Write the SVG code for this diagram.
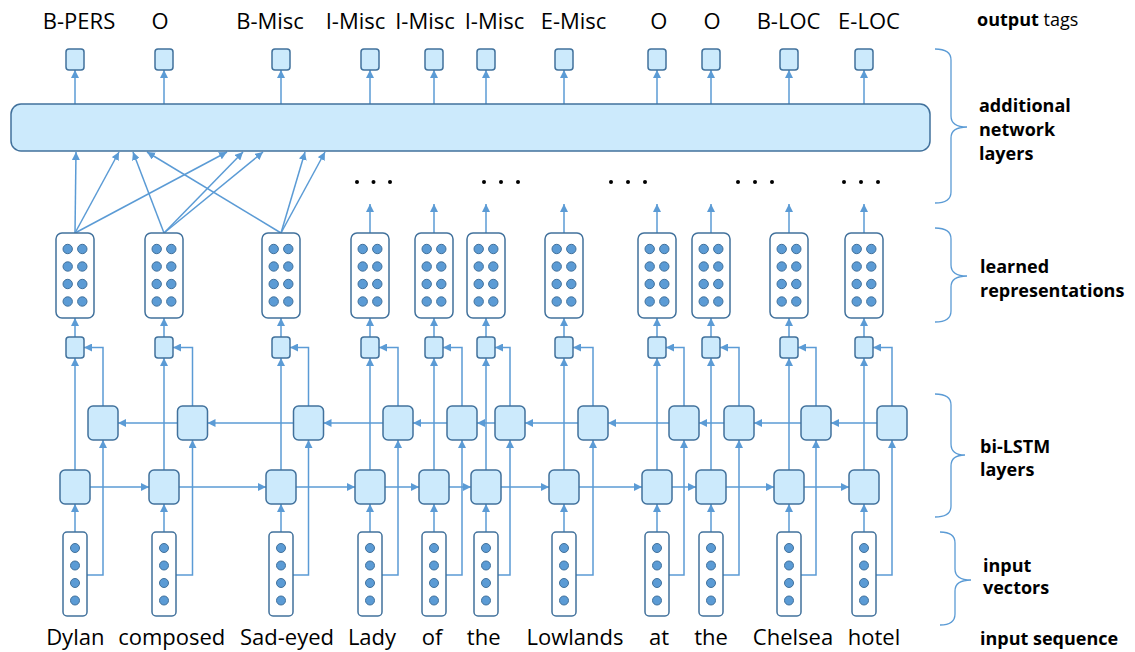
<svg xmlns="http://www.w3.org/2000/svg" width="1135" height="652" viewBox="0 0 1135 652">
<style>
.box{fill:#CCEAFC;stroke:#41719C;stroke-width:1.5}
.rep{fill:#fff;stroke:#41719C;stroke-width:1.5}
.dot{fill:#5B9BD5;stroke:#41719C;stroke-width:1}
.ln{stroke:#5B9BD5;stroke-width:1.5;fill:none}
.ar{marker-end:url(#ah)}
.br{stroke:#5B9BD5;stroke-width:1.3;fill:none}
.t{font-family:"Open Sans","Liberation Sans",sans-serif;font-size:22px;fill:#000;text-anchor:middle}
.lb{font-family:"Open Sans","Liberation Sans",sans-serif;font-size:18px;font-weight:bold;fill:#000}
.ell{fill:#000}
</style>
<defs>
<marker id="ah" markerWidth="8" markerHeight="8" refX="8" refY="4" orient="auto" markerUnits="userSpaceOnUse"><path d="M0,0 L8,4 L0,8 z" fill="#5B9BD5"/></marker>
<g id="rdots"><circle class="dot" cx="-7.3" cy="16" r="4.7"/><circle class="dot" cx="7.3" cy="16" r="4.7"/><circle class="dot" cx="-7.3" cy="33.5" r="4.7"/><circle class="dot" cx="7.3" cy="33.5" r="4.7"/><circle class="dot" cx="-7.3" cy="51" r="4.7"/><circle class="dot" cx="7.3" cy="51" r="4.7"/><circle class="dot" cx="-7.3" cy="68.5" r="4.7"/><circle class="dot" cx="7.3" cy="68.5" r="4.7"/></g>
<g id="idots"><circle class="dot" cx="0" cy="16" r="4.5"/><circle class="dot" cx="0" cy="33.5" r="4.5"/><circle class="dot" cx="0" cy="51" r="4.5"/><circle class="dot" cx="0" cy="68.5" r="4.5"/></g>
</defs>
<rect width="1135" height="652" fill="#fff"/>

<g id="connectors">
<!-- output arrows -->
<path class="ln ar" d="M75,104V70"/><path class="ln ar" d="M164,104V70"/><path class="ln ar" d="M281,104V70"/><path class="ln ar" d="M370,104V70"/><path class="ln ar" d="M434,104V70"/><path class="ln ar" d="M486,104V70"/><path class="ln ar" d="M564,104V70"/><path class="ln ar" d="M657,104V70"/><path class="ln ar" d="M711,104V70"/><path class="ln ar" d="M789,104V70"/><path class="ln ar" d="M864,104V70"/>
<!-- crossing lines into additional layers -->
<path class="ln ar" d="M75,233L76,152"/><path class="ln ar" d="M75,233L119,152"/><path class="ln ar" d="M75,233L227,152"/>
<path class="ln ar" d="M164,233L133,152"/><path class="ln ar" d="M164,233L243,152"/><path class="ln ar" d="M164,233L263,152"/>
<path class="ln ar" d="M281,233L147,152"/><path class="ln ar" d="M281,233L305,152"/><path class="ln ar" d="M281,233L325,152"/>
<!-- rep to dots -->
<path class="ln ar" d="M370,233V204"/><path class="ln ar" d="M434,233V204"/><path class="ln ar" d="M486,233V204"/><path class="ln ar" d="M564,233V204"/><path class="ln ar" d="M657,233V204"/><path class="ln ar" d="M711,233V204"/><path class="ln ar" d="M789,233V204"/><path class="ln ar" d="M864,233V204"/>
<!-- small to rep -->
<path class="ln ar" d="M75,337V318"/><path class="ln ar" d="M164,337V318"/><path class="ln ar" d="M281,337V318"/><path class="ln ar" d="M370,337V318"/><path class="ln ar" d="M434,337V318"/><path class="ln ar" d="M486,337V318"/><path class="ln ar" d="M564,337V318"/><path class="ln ar" d="M657,337V318"/><path class="ln ar" d="M711,337V318"/><path class="ln ar" d="M789,337V318"/><path class="ln ar" d="M864,337V318"/>
<!-- forward to small -->
<path class="ln ar" d="M75,470V358"/><path class="ln ar" d="M164,470V358"/><path class="ln ar" d="M281,470V358"/><path class="ln ar" d="M370,470V358"/><path class="ln ar" d="M434,470V358"/><path class="ln ar" d="M486,470V358"/><path class="ln ar" d="M564,470V358"/><path class="ln ar" d="M657,470V358"/><path class="ln ar" d="M711,470V358"/><path class="ln ar" d="M789,470V358"/><path class="ln ar" d="M864,470V358"/>
<!-- backward to small -->
<path class="ln ar" d="M103,406V347.5H84"/><path class="ln ar" d="M192.5,406V347.5H173"/><path class="ln ar" d="M308.5,406V347.5H290"/><path class="ln ar" d="M398,406V347.5H379"/><path class="ln ar" d="M462,406V347.5H443"/><path class="ln ar" d="M510,406V347.5H495"/><path class="ln ar" d="M593,406V347.5H573"/><path class="ln ar" d="M684,406V347.5H666"/><path class="ln ar" d="M739,406V347.5H720"/><path class="ln ar" d="M816,406V347.5H798"/><path class="ln ar" d="M892,406V347.5H873"/>
<!-- input to forward -->
<path class="ln ar" d="M75,532V504"/><path class="ln ar" d="M164,532V504"/><path class="ln ar" d="M281,532V504"/><path class="ln ar" d="M370,532V504"/><path class="ln ar" d="M434,532V504"/><path class="ln ar" d="M486,532V504"/><path class="ln ar" d="M564,532V504"/><path class="ln ar" d="M657,532V504"/><path class="ln ar" d="M711,532V504"/><path class="ln ar" d="M789,532V504"/><path class="ln ar" d="M864,532V504"/>
<!-- input to backward -->
<path class="ln ar" d="M87,575H103V440"/><path class="ln ar" d="M176,575H192.5V440"/><path class="ln ar" d="M293,575H308.5V440"/><path class="ln ar" d="M382,575H398V440"/><path class="ln ar" d="M446,575H462V440"/><path class="ln ar" d="M498,575H510V440"/><path class="ln ar" d="M576,575H593V440"/><path class="ln ar" d="M669,575H684V440"/><path class="ln ar" d="M723,575H739V440"/><path class="ln ar" d="M801,575H816V440"/><path class="ln ar" d="M876,575H892V440"/>
<!-- forward chain -->
<path class="ln ar" d="M90,487H149"/><path class="ln ar" d="M179,487H266"/><path class="ln ar" d="M296,487H355"/><path class="ln ar" d="M385,487H419"/><path class="ln ar" d="M449,487H471"/><path class="ln ar" d="M501,487H549"/><path class="ln ar" d="M579,487H642"/><path class="ln ar" d="M672,487H696"/><path class="ln ar" d="M726,487H774"/><path class="ln ar" d="M804,487H849"/>
<!-- backward chain -->
<path class="ln ar" d="M177.5,423H118"/><path class="ln ar" d="M293.5,423H207.5"/><path class="ln ar" d="M383,423H323.5"/><path class="ln ar" d="M447,423H413"/><path class="ln ar" d="M495,423H477"/><path class="ln ar" d="M578,423H525"/><path class="ln ar" d="M669,423H608"/><path class="ln ar" d="M724,423H699"/><path class="ln ar" d="M801,423H754"/><path class="ln ar" d="M877,423H831"/>
</g>

<g id="output-tags">
<text class="t" x="79" y="29">B-PERS</text><text class="t" x="160" y="29">O</text><text class="t" x="270" y="29">B-Misc</text><text class="t" x="355.5" y="29">I-Misc</text><text class="t" x="425" y="29">I-Misc</text><text class="t" x="494.5" y="29">I-Misc</text><text class="t" x="573.5" y="29">E-Misc</text><text class="t" x="658.7" y="29">O</text><text class="t" x="712" y="29">O</text><text class="t" x="788.5" y="29">B-LOC</text><text class="t" x="869" y="29">E-LOC</text>
</g>

<g id="output-boxes">
<rect class="box" x="66" y="49" width="18" height="21" rx="3"/><rect class="box" x="155" y="49" width="18" height="21" rx="3"/><rect class="box" x="272" y="49" width="18" height="21" rx="3"/><rect class="box" x="361" y="49" width="18" height="21" rx="3"/><rect class="box" x="425" y="49" width="18" height="21" rx="3"/><rect class="box" x="477" y="49" width="18" height="21" rx="3"/><rect class="box" x="555" y="49" width="18" height="21" rx="3"/><rect class="box" x="648" y="49" width="18" height="21" rx="3"/><rect class="box" x="702" y="49" width="18" height="21" rx="3"/><rect class="box" x="780" y="49" width="18" height="21" rx="3"/><rect class="box" x="855" y="49" width="18" height="21" rx="3"/>
</g>

<g id="additional-layers"><rect class="box" x="11" y="104" width="919" height="47" rx="10"/></g>

<g id="ellipses">
<circle class="ell" cx="357" cy="182" r="2"/><circle class="ell" cx="373.5" cy="182" r="2"/><circle class="ell" cx="390" cy="182" r="2"/>
<circle class="ell" cx="484" cy="182" r="2"/><circle class="ell" cx="501" cy="182" r="2"/><circle class="ell" cx="518" cy="182" r="2"/>
<circle class="ell" cx="611" cy="182" r="2"/><circle class="ell" cx="628" cy="182" r="2"/><circle class="ell" cx="645" cy="182" r="2"/>
<circle class="ell" cx="738" cy="182" r="2"/><circle class="ell" cx="755" cy="182" r="2"/><circle class="ell" cx="772" cy="182" r="2"/>
<circle class="ell" cx="844" cy="182" r="2"/><circle class="ell" cx="861" cy="182" r="2"/><circle class="ell" cx="878" cy="182" r="2"/>
</g>

<g id="learned-representations">
<g id="rep1"><rect class="rep" x="56" y="233" width="38" height="85" rx="6"/><use href="#rdots" x="75" y="233"/></g>
<g id="rep2"><rect class="rep" x="145" y="233" width="38" height="85" rx="6"/><use href="#rdots" x="164" y="233"/></g>
<g id="rep3"><rect class="rep" x="262" y="233" width="38" height="85" rx="6"/><use href="#rdots" x="281" y="233"/></g>
<g id="rep4"><rect class="rep" x="351" y="233" width="38" height="85" rx="6"/><use href="#rdots" x="370" y="233"/></g>
<g id="rep5"><rect class="rep" x="415" y="233" width="38" height="85" rx="6"/><use href="#rdots" x="434" y="233"/></g>
<g id="rep6"><rect class="rep" x="467" y="233" width="38" height="85" rx="6"/><use href="#rdots" x="486" y="233"/></g>
<g id="rep7"><rect class="rep" x="545" y="233" width="38" height="85" rx="6"/><use href="#rdots" x="564" y="233"/></g>
<g id="rep8"><rect class="rep" x="638" y="233" width="38" height="85" rx="6"/><use href="#rdots" x="657" y="233"/></g>
<g id="rep9"><rect class="rep" x="692" y="233" width="38" height="85" rx="6"/><use href="#rdots" x="711" y="233"/></g>
<g id="rep10"><rect class="rep" x="770" y="233" width="38" height="85" rx="6"/><use href="#rdots" x="789" y="233"/></g>
<g id="rep11"><rect class="rep" x="845" y="233" width="38" height="85" rx="6"/><use href="#rdots" x="864" y="233"/></g>
</g>

<g id="concat-boxes">
<rect class="box" x="66" y="337" width="18" height="21" rx="3"/><rect class="box" x="155" y="337" width="18" height="21" rx="3"/><rect class="box" x="272" y="337" width="18" height="21" rx="3"/><rect class="box" x="361" y="337" width="18" height="21" rx="3"/><rect class="box" x="425" y="337" width="18" height="21" rx="3"/><rect class="box" x="477" y="337" width="18" height="21" rx="3"/><rect class="box" x="555" y="337" width="18" height="21" rx="3"/><rect class="box" x="648" y="337" width="18" height="21" rx="3"/><rect class="box" x="702" y="337" width="18" height="21" rx="3"/><rect class="box" x="780" y="337" width="18" height="21" rx="3"/><rect class="box" x="855" y="337" width="18" height="21" rx="3"/>
</g>

<g id="backward-lstm">
<rect class="box" x="88" y="406" width="30" height="34" rx="5"/><rect class="box" x="177.5" y="406" width="30" height="34" rx="5"/><rect class="box" x="293.5" y="406" width="30" height="34" rx="5"/><rect class="box" x="383" y="406" width="30" height="34" rx="5"/><rect class="box" x="447" y="406" width="30" height="34" rx="5"/><rect class="box" x="495" y="406" width="30" height="34" rx="5"/><rect class="box" x="578" y="406" width="30" height="34" rx="5"/><rect class="box" x="669" y="406" width="30" height="34" rx="5"/><rect class="box" x="724" y="406" width="30" height="34" rx="5"/><rect class="box" x="801" y="406" width="30" height="34" rx="5"/><rect class="box" x="877" y="406" width="30" height="34" rx="5"/>
</g>

<g id="forward-lstm">
<rect class="box" x="60" y="470" width="30" height="34" rx="5"/><rect class="box" x="149" y="470" width="30" height="34" rx="5"/><rect class="box" x="266" y="470" width="30" height="34" rx="5"/><rect class="box" x="355" y="470" width="30" height="34" rx="5"/><rect class="box" x="419" y="470" width="30" height="34" rx="5"/><rect class="box" x="471" y="470" width="30" height="34" rx="5"/><rect class="box" x="549" y="470" width="30" height="34" rx="5"/><rect class="box" x="642" y="470" width="30" height="34" rx="5"/><rect class="box" x="696" y="470" width="30" height="34" rx="5"/><rect class="box" x="774" y="470" width="30" height="34" rx="5"/><rect class="box" x="849" y="470" width="30" height="34" rx="5"/>
</g>

<g id="input-vectors">
<g id="in1"><rect class="rep" x="63" y="532" width="24" height="84" rx="4"/><use href="#idots" x="75" y="532"/></g>
<g id="in2"><rect class="rep" x="152" y="532" width="24" height="84" rx="4"/><use href="#idots" x="164" y="532"/></g>
<g id="in3"><rect class="rep" x="269" y="532" width="24" height="84" rx="4"/><use href="#idots" x="281" y="532"/></g>
<g id="in4"><rect class="rep" x="358" y="532" width="24" height="84" rx="4"/><use href="#idots" x="370" y="532"/></g>
<g id="in5"><rect class="rep" x="422" y="532" width="24" height="84" rx="4"/><use href="#idots" x="434" y="532"/></g>
<g id="in6"><rect class="rep" x="474" y="532" width="24" height="84" rx="4"/><use href="#idots" x="486" y="532"/></g>
<g id="in7"><rect class="rep" x="552" y="532" width="24" height="84" rx="4"/><use href="#idots" x="564" y="532"/></g>
<g id="in8"><rect class="rep" x="645" y="532" width="24" height="84" rx="4"/><use href="#idots" x="657" y="532"/></g>
<g id="in9"><rect class="rep" x="699" y="532" width="24" height="84" rx="4"/><use href="#idots" x="711" y="532"/></g>
<g id="in10"><rect class="rep" x="777" y="532" width="24" height="84" rx="4"/><use href="#idots" x="789" y="532"/></g>
<g id="in11"><rect class="rep" x="852" y="532" width="24" height="84" rx="4"/><use href="#idots" x="864" y="532"/></g>
</g>

<g id="input-words">
<text class="t" x="75.3" y="645">Dylan</text><text class="t" x="171.7" y="645">composed</text><text class="t" x="287" y="645">Sad-eyed</text><text class="t" x="372" y="645">Lady</text><text class="t" x="432" y="645">of</text><text class="t" x="483.7" y="645">the</text><text class="t" x="575" y="645">Lowlands</text><text class="t" x="659" y="645">at</text><text class="t" x="711" y="645">the</text><text class="t" x="793" y="645">Chelsea</text><text class="t" x="874" y="645">hotel</text>
</g>

<g id="braces">
<path class="br" d="M935,49Q951,49 951,60V116Q951,127 967,127Q951,127 951,138V192Q951,203 935,203"/>
<path class="br" d="M935,228Q951,228 951,239V265Q951,276 967,276Q951,276 951,287V311Q951,322 935,322"/>
<path class="br" d="M935,394Q951,394 951,405V444Q951,455 965,455Q951,455 951,466V506Q951,517 935,517"/>
<path class="br" d="M940,532Q955,532 955,543V569Q955,580 971,580Q955,580 955,591V614Q955,625 940,625"/>
</g>

<g id="layer-labels">
<text class="lb" x="977" y="26">output<tspan font-weight="normal"> tags</tspan></text>
<text class="lb" x="979" y="112">additional</text><text class="lb" x="979" y="136">network</text><text class="lb" x="979" y="160">layers</text>
<text class="lb" x="980" y="273">learned</text><text class="lb" x="980" y="297">representations</text>
<text class="lb" x="980" y="453">bi-LSTM</text><text class="lb" x="980" y="476">layers</text>
<text class="lb" x="983" y="572">input</text><text class="lb" x="983" y="594">vectors</text>
<text class="lb" x="980" y="645">input sequence</text>
</g>
</svg>
